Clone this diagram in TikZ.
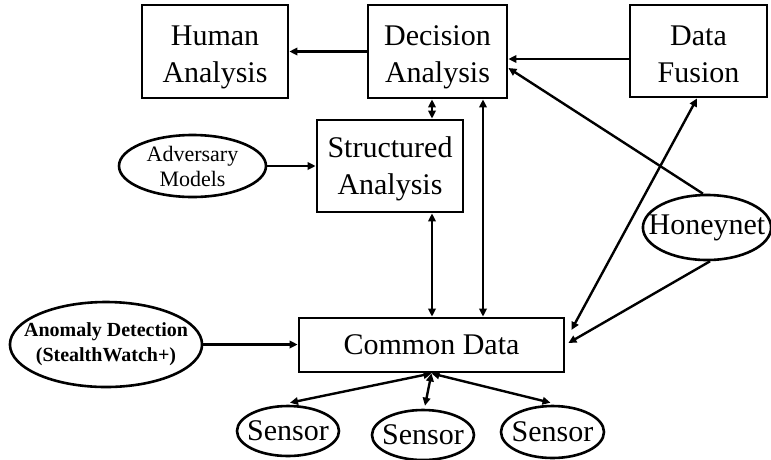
\documentclass[tikz,border=0pt]{standalone}
\usepackage{fontspec}
\setmainfont{Liberation Serif}
\usetikzlibrary{arrows.meta,shapes.geometric}
\begin{document}
\begin{tikzpicture}[x=1pt,y=-1pt,
  box/.style={draw,line width=2.8pt,inner sep=0pt,align=center,
    font=\fontsize{30}{37}\selectfont},
  twoline/.style={text height=68pt,text depth=6pt},
  oval/.style={draw,ellipse,line width=2.6pt,inner sep=0pt,align=center},
  big/.style={font=\fontsize{30}{36}\selectfont},
  small/.style={font=\fontsize{22}{25}\selectfont},
  bold/.style={font=\fontsize{20}{25}\selectfont\bfseries},
  link/.style={line width=2.4pt,-{Triangle[length=8pt,width=7.5pt]}},
  dlink/.style={line width=2.4pt,{Triangle[length=8pt,width=7.5pt]}-{Triangle[length=8pt,width=7.5pt]}}]
\useasboundingbox (0,0) rectangle (771,459);

% boxes
\node[box,twoline,minimum width=146pt,minimum height=93pt] (human) at (215,51.5) {Human\\Analysis};
\node[box,twoline,minimum width=139pt,minimum height=93pt] (decision) at (437.5,51.5) {Decision\\Analysis};
\node[box,twoline,minimum width=137pt,minimum height=92pt] (fusion) at (698.5,51) {Data\\Fusion};
\node[box,twoline,text height=62pt,minimum width=146pt,minimum height=92pt] (struct) at (390,166) {Structured\\Analysis};
\node[box,minimum width=265pt,minimum height=54pt] (common) at (431.5,345) {Common Data};

% ovals
\node[oval,small,minimum width=147pt,minimum height=62pt] (adversary) at (192.5,166) {Adversary\\Models};
\node[oval,bold,inner xsep=-14pt,minimum width=192pt,minimum height=85pt] (anomaly) at (106,344.5) {Anomaly Detection\\(StealthWatch+)};
\node[oval,big,inner xsep=-13pt,minimum width=128pt,minimum height=65pt] (honeynet) at (707,227.5) {Honeynet};
\node[oval,big,inner xsep=-5pt,minimum width=102pt,minimum height=50pt] (sensor1) at (288,431) {Sensor};
\node[oval,big,inner xsep=-5pt,minimum width=102pt,minimum height=50pt] (sensor2) at (423,435) {Sensor};
\node[oval,big,inner xsep=-5pt,minimum width=103pt,minimum height=52pt] (sensor3) at (552.5,432) {Sensor};

% guide columns and rows for the straight links
\coordinate (colA) at (432,0);
\coordinate (colB) at (483,0);
\coordinate (rowF) at (0,59);

% connectors
\draw[link] (decision.west) -- (human.east);
\draw[link] (fusion.west |- rowF) -- (decision.east |- rowF);
\draw[link] ([xshift=-4pt]honeynet.north) -- ([yshift=-16.5pt]decision.east);
\draw[dlink] (decision.south -| colA) -- (struct.north -| colA);
\draw[dlink] (struct.south -| colA) -- (common.north -| colA);
\draw[dlink] (decision.south -| colB) -- (common.north -| colB);
\draw[link] (adversary.east) -- (struct.west);
\draw[link] (anomaly.east) -- (common.west |- anomaly.east);
\draw[dlink] ([xshift=6pt,yshift=15pt]common.east) -- ([xshift=-1.5pt]fusion.south);
\draw[link] ([xshift=3pt]honeynet.south) -- ([xshift=3pt,yshift=2pt]common.east);
\draw[dlink] (common.south) -- ([xshift=2pt,yshift=2pt]sensor1.north);
\draw[dlink] (common.south) -- ([xshift=2pt,yshift=3pt]sensor2.north);
\draw[dlink] (common.south) -- ([xshift=-2pt,yshift=2pt]sensor3.north);
\end{tikzpicture}
\end{document}
